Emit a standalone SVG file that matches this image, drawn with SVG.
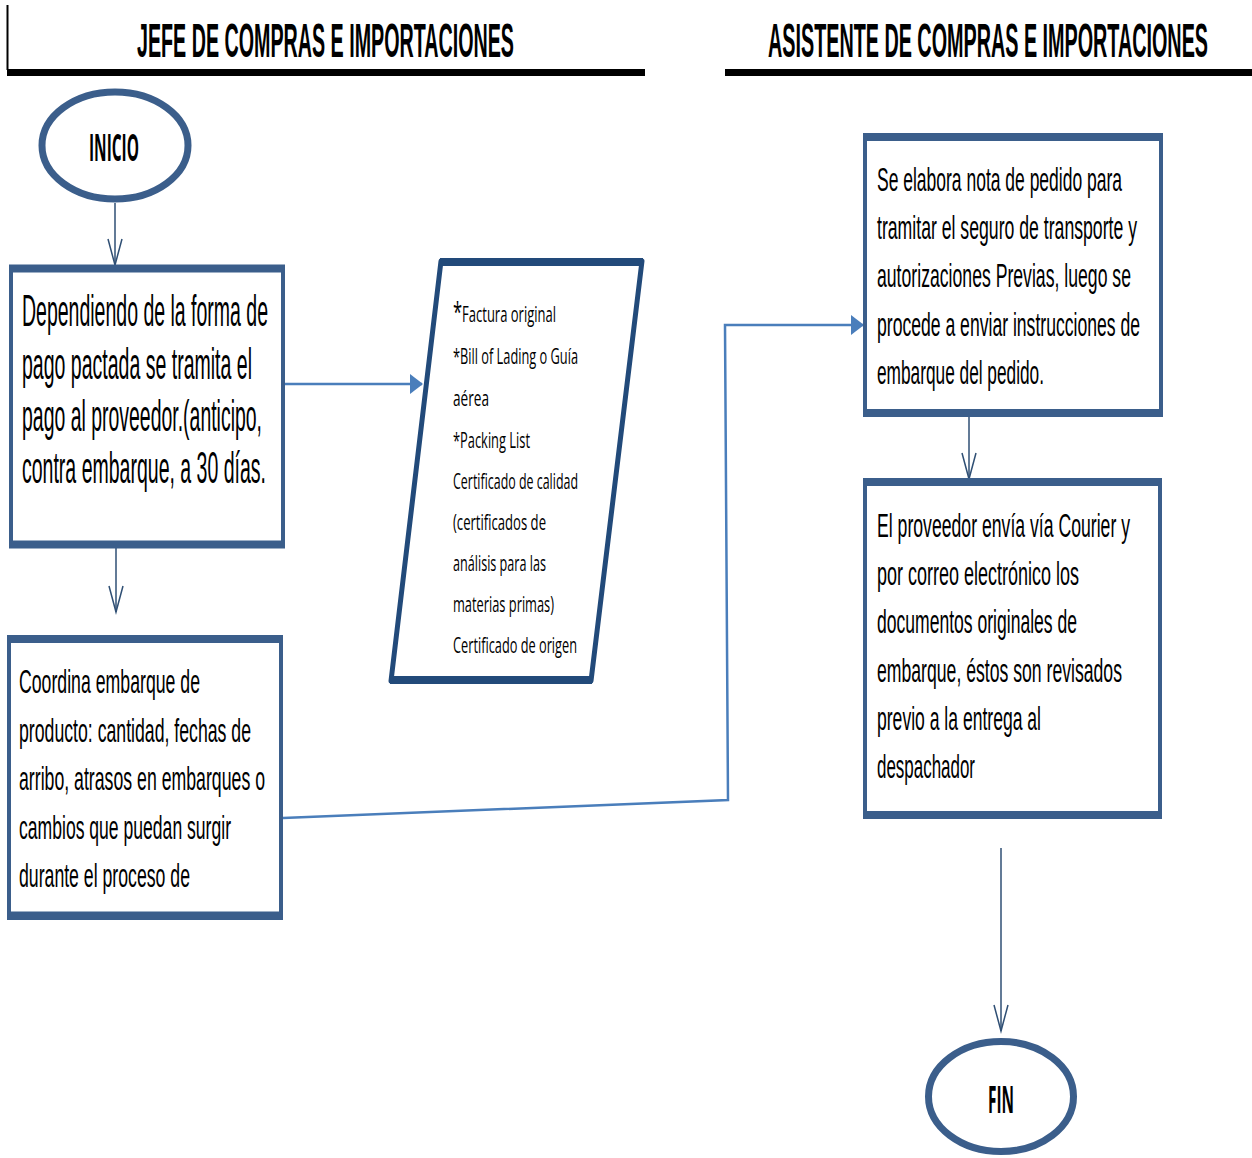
<svg xmlns="http://www.w3.org/2000/svg" width="1252" height="1158" viewBox="0 0 1252 1158">
<defs>
<style>
.hdr{font-family:"Liberation Sans",Arial,sans-serif;font-weight:bold;font-size:48px;fill:#000}
.term{font-family:"Open Sans","Liberation Sans",sans-serif;font-weight:bold;font-size:38px;fill:#000}
.t1{font-family:"Liberation Sans",Arial,sans-serif;font-size:45px;fill:#000}
.t2{font-family:"Liberation Sans",Arial,sans-serif;font-size:33px;fill:#000}
.t3{font-family:"Open Sans","Liberation Sans",sans-serif;font-size:22px;fill:#000}
.box{fill:#fff;stroke:#3b5e8b;stroke-width:4}
.bar{stroke:#3b5e8b;stroke-width:8}
.ell{fill:#fff;stroke:#3b5e8b;stroke-width:7}
.thin{fill:none;stroke:#2f4f74;stroke-width:1.5}
.blue{fill:none;stroke:#4a7ebb;stroke-width:2.5}
</style>
<marker id="v" markerUnits="userSpaceOnUse" markerWidth="30" markerHeight="18" refX="27" refY="8" orient="auto" viewBox="0 0 30 16">
<path d="M1,1 L27,8 L1,15" fill="none" stroke="#2f4f74" stroke-width="1.5"/>
</marker>
<marker id="tri" markerUnits="userSpaceOnUse" markerWidth="14" markerHeight="20" refX="12" refY="10" orient="auto" viewBox="0 0 14 20">
<path d="M0,0 L13,10 L0,20 Z" fill="#4a7ebb"/>
</marker>
</defs>

<g id="headers">
<line x1="7.5" y1="5" x2="7.5" y2="70" stroke="#000" stroke-width="2"/>
<rect x="7" y="69" width="638" height="7" fill="#000"/>
<text class="hdr" x="137" y="57" textLength="377" lengthAdjust="spacingAndGlyphs">JEFE DE COMPRAS E IMPORTACIONES</text>
<rect x="725" y="69" width="527" height="7" fill="#000"/>
<text class="hdr" x="768" y="57" textLength="440" lengthAdjust="spacingAndGlyphs">ASISTENTE DE COMPRAS E IMPORTACIONES</text>
</g>

<g id="connectors">
<line class="thin" x1="115" y1="203" x2="115" y2="265" marker-end="url(#v)"/>
<line class="thin" x1="116" y1="548" x2="116" y2="612" marker-end="url(#v)"/>
<line class="blue" x1="276" y1="384" x2="422" y2="384" marker-end="url(#tri)"/>
<polyline class="blue" points="283,818 728,800 725,325 863,325" stroke-width="2" marker-end="url(#tri)"/>
<line class="thin" x1="969" y1="417" x2="969" y2="479" marker-end="url(#v)"/>
<line class="thin" x1="1001" y1="848" x2="1001" y2="1031" marker-end="url(#v)"/>
</g>

<g id="inicio">
<ellipse class="ell" cx="115" cy="145.5" rx="73" ry="53.5"/>
<text class="term" x="89" y="161" textLength="50" lengthAdjust="spacingAndGlyphs">INICIO</text>
</g>

<g id="pago">
<rect class="box" x="11" y="267" width="272" height="279"/>
<line class="bar" x1="9" y1="268.5" x2="285" y2="268.5"/>
<line class="bar" x1="9" y1="544.5" x2="285" y2="544.5"/>
<text class="t1" x="22" y="326" textLength="246" lengthAdjust="spacingAndGlyphs">Dependiendo de la forma de</text>
<text class="t1" x="22" y="379" textLength="230" lengthAdjust="spacingAndGlyphs">pago pactada se tramita el</text>
<text class="t1" x="22" y="431" textLength="240" lengthAdjust="spacingAndGlyphs">pago al proveedor.(anticipo,</text>
<text class="t1" x="22" y="483" textLength="244" lengthAdjust="spacingAndGlyphs">contra embarque, a 30 días.</text>
</g>

<g id="documentos">
<polygon points="441,261 642,261 591,681 391,681" fill="#fff" stroke="#224a7a" stroke-width="5" stroke-linejoin="round"/>
<line x1="440" y1="262" x2="643" y2="262" stroke="#224a7a" stroke-width="8"/>
<line x1="390" y1="680" x2="592" y2="680" stroke="#224a7a" stroke-width="8"/>
<text class="t3" x="453" y="322" textLength="103" lengthAdjust="spacingAndGlyphs"><tspan font-size="28">*</tspan>Factura original</text>
<text class="t3" x="453" y="364" textLength="125" lengthAdjust="spacingAndGlyphs">*Bill of Lading o Guía</text>
<text class="t3" x="453" y="406" textLength="36" lengthAdjust="spacingAndGlyphs">aérea</text>
<text class="t3" x="453" y="448" textLength="77" lengthAdjust="spacingAndGlyphs">*Packing List</text>
<text class="t3" x="453" y="489" textLength="125" lengthAdjust="spacingAndGlyphs">Certificado de calidad</text>
<text class="t3" x="453" y="530" textLength="93" lengthAdjust="spacingAndGlyphs">(certificados de</text>
<text class="t3" x="453" y="571" textLength="93" lengthAdjust="spacingAndGlyphs">análisis para las</text>
<text class="t3" x="453" y="612" textLength="101" lengthAdjust="spacingAndGlyphs">materias primas)</text>
<text class="t3" x="453" y="653" textLength="124" lengthAdjust="spacingAndGlyphs">Certificado de origen</text>
</g>

<g id="coordina">
<rect class="box" x="9" y="637" width="272" height="281"/>
<line class="bar" x1="8" y1="639" x2="283" y2="639"/>
<line class="bar" x1="8" y1="915.5" x2="283" y2="915.5"/>
<text class="t2" x="19" y="693" textLength="181" lengthAdjust="spacingAndGlyphs">Coordina  embarque  de</text>
<text class="t2" x="19" y="742" textLength="232" lengthAdjust="spacingAndGlyphs">producto: cantidad, fechas de</text>
<text class="t2" x="19" y="790" textLength="246" lengthAdjust="spacingAndGlyphs">arribo, atrasos en embarques  o</text>
<text class="t2" x="19" y="839" textLength="212" lengthAdjust="spacingAndGlyphs">cambios que puedan surgir</text>
<text class="t2" x="19" y="887" textLength="171" lengthAdjust="spacingAndGlyphs">durante  el proceso de</text>
</g>

<g id="nota_pedido">
<rect class="box" x="865" y="135" width="296" height="280"/>
<line class="bar" x1="863" y1="137" x2="1163" y2="137"/>
<line class="bar" x1="863" y1="413" x2="1163" y2="413"/>
<text class="t2" x="877" y="191" textLength="245" lengthAdjust="spacingAndGlyphs">Se elabora nota de pedido para</text>
<text class="t2" x="877" y="239" textLength="260" lengthAdjust="spacingAndGlyphs">tramitar el seguro de transporte y</text>
<text class="t2" x="877" y="287" textLength="254" lengthAdjust="spacingAndGlyphs">autorizaciones  Previas, luego se</text>
<text class="t2" x="877" y="336" textLength="263" lengthAdjust="spacingAndGlyphs">procede a enviar  instrucciones de</text>
<text class="t2" x="877" y="384" textLength="167" lengthAdjust="spacingAndGlyphs">embarque  del pedido.</text>
</g>

<g id="proveedor">
<rect class="box" x="865" y="480" width="295" height="337"/>
<line class="bar" x1="863" y1="482" x2="1162" y2="482"/>
<line class="bar" x1="863" y1="815" x2="1162" y2="815"/>
<text class="t2" x="877" y="537" textLength="253" lengthAdjust="spacingAndGlyphs">El proveedor  envía  vía Courier  y</text>
<text class="t2" x="877" y="585" textLength="202" lengthAdjust="spacingAndGlyphs">por correo electrónico  los</text>
<text class="t2" x="877" y="633" textLength="200" lengthAdjust="spacingAndGlyphs">documentos originales de</text>
<text class="t2" x="877" y="682" textLength="245" lengthAdjust="spacingAndGlyphs">embarque,  éstos son revisados</text>
<text class="t2" x="877" y="730" textLength="164" lengthAdjust="spacingAndGlyphs">previo  a la entrega al</text>
<text class="t2" x="877" y="778" textLength="98" lengthAdjust="spacingAndGlyphs">despachador</text>
</g>

<g id="fin">
<ellipse class="ell" cx="1001" cy="1096.5" rx="72.5" ry="55"/>
<text class="term" x="988" y="1113" textLength="26" lengthAdjust="spacingAndGlyphs">FIN</text>
</g>
</svg>
